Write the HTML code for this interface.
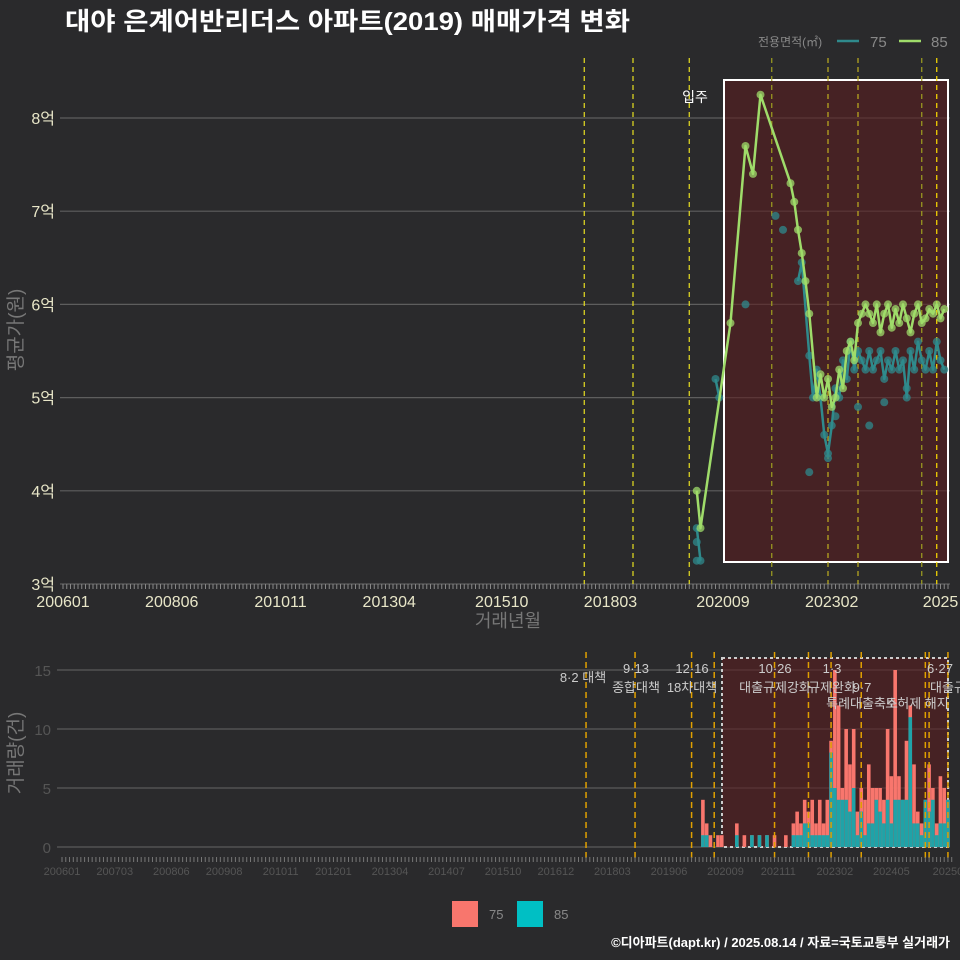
<!DOCTYPE html>
<html><head><meta charset="utf-8">
<style>
body{margin:0;background:#2a2a2c;}
svg{display:block;font-family:"Liberation Sans","Noto Sans CJK KR",sans-serif;}
</style></head>
<body>
<svg id="c" width="960" height="960" viewBox="0 0 960 960">
<rect width="960" height="960" fill="#2a2a2c"/>
<text x="65" y="30" fill="#fff" font-size="25" font-weight="bold" textLength="565" lengthAdjust="spacingAndGlyphs">대야 은계어반리더스 아파트(2019) 매매가격 변화</text>
<g>
<text x="758" y="46" fill="#888" font-size="12">전용면적(㎡)</text>
<line x1="837" y1="41" x2="859" y2="41" stroke="#2f8a8c" stroke-width="2.5"/>
<text x="870" y="47" fill="#888" font-size="15">75</text>
<line x1="899" y1="41" x2="921" y2="41" stroke="#9fdc6a" stroke-width="2.5"/>
<text x="931" y="47" fill="#888" font-size="15">85</text>
</g>
<g id="topg"></g>
<g id="botg"></g>
<g>
<rect x="452" y="901" width="26" height="26" fill="#f8766d"/>
<text x="489" y="919" fill="#888" font-size="13">75</text>
<rect x="517" y="901" width="26" height="26" fill="#00bfc4"/>
<text x="554" y="919" fill="#888" font-size="13">85</text>
</g>
<text x="950" y="947" fill="#fff" font-size="13" font-weight="bold" text-anchor="end">©디아파트(dapt.kr) / 2025.08.14 / 자료=국토교통부 실거래가</text>
</svg>
<script>
// month index: 0 = 2006-01
const priceTicks = [3,4,5,6,7,8];
const topXLabels = ['200601','200806','201011','201304','201510','201803','202009','202302','2025'];
const topXLabelMonths = [0,29,58,87,117,146,176,205,234];
const months85 = [169,170,178,182,184,186,194,195,196,197,198,199,201,202,203,204,205,206,207,208,209,210,211,212,213,214,215,216,217,218,219,220,221,222,223,224,225,226,227,228,229,230,231,232,233,234,235];
const price85 = [4.0,3.6,5.8,7.7,7.4,8.25,7.3,7.1,6.8,6.55,6.25,5.9,5.0,5.25,5.0,5.2,4.9,5.0,5.3,5.1,5.5,5.6,5.4,5.8,5.9,6.0,5.9,5.8,6.0,5.7,5.9,6.0,5.75,5.95,5.8,6.0,5.85,5.7,5.9,6.0,5.8,5.85,5.95,5.9,6.0,5.85,5.95];
const months75 = [169,170,174,175,196,197,199,200,201,202,203,204,205,206,207,208,209,210,211,212,213,214,215,216,217,218,219,220,221,222,223,224,225,226,227,228,229,230,231,232,233,234,235];
const price75 = [3.6,3.25,5.2,5.0,6.25,6.45,5.45,5.0,5.3,5.0,4.6,4.4,4.7,5.1,5.0,5.4,5.2,5.6,5.3,5.5,5.4,5.3,5.5,5.3,5.4,5.5,5.2,5.4,5.3,5.5,5.3,5.4,5.0,5.5,5.3,5.6,5.4,5.3,5.5,5.3,5.6,5.4,5.3];
const scatterMonths75 = [169,169,182,190,192,199,204,206,212,215,219,225];
const scatterPrice75 = [3.45,3.25,6.0,6.95,6.8,4.2,4.35,4.8,4.9,4.7,4.95,5.1];
const topEvents = [139,152,167,189,204,212,229,233];
const topEventColors = ['#e8e020','#e8e020','#e8e020','#a0a020','#c0b020','#c0b020','#a0a020','#ffe000'];
// bottom volume chart
const volMonths = [170,171,172,174,175,179,181,183,185,187,189,192,194,195,196,197,198,199,200,201,202,203,204,205,206,207,208,209,210,211,212,213,214,215,216,217,218,219,220,221,222,223,224,225,226,227,228,229,230,231,232,233,234,235];
const volTotal = [4,2,1,1,1,2,1,1,1,1,1,1,2,3,2,4,3,4,2,4,2,4,9,15,12,5,10,7,10,3,5,4,7,5,5,5,4,10,6,15,6,4,9,12,7,3,2,4,7,5,2,6,5,4];
const vol85 = [1,1,0,0,0,1,0,1,1,1,0,0,1,1,1,2,2,1,1,1,1,1,8,5,4,4,4,3,5,1,3,1,2,2,4,3,2,4,2,4,4,4,4,11,2,2,1,4,3,4,1,2,2,4];
const volTicks = [0,5,10,15];
const botXLabels = ['200601','200703','200806','200908','201011','201201','201304','201407','201510','201612','201803','201906','202009','202111','202302','202405','20250'];
const botXLabelMonths = [0,14,29,43,58,72,87,102,117,131,146,161,176,190,205,220,235];
const botEvents = [139,152,167,173,189,198,204,212,229,230,235];
const eventTexts = [['8·2 대책',583,682],['9·13',636,673],['종합대책',636,692],['12·16',692,673],['18차대책',692,692],['10·26',775,673],['대출규제강화',775,692],['1·3',832,673],['규제완화',832,692],['9·7',862,692],['특례대출축소',862,708],['토허제 해지',917,708],['6·27',940,673],['대출규',948,692]];

const NS='http://www.w3.org/2000/svg';
function mk(tag,attrs,parent){const e=document.createElementNS(NS,tag);for(const k in attrs)e.setAttribute(k,attrs[k]);parent.appendChild(e);return e;}
const topG=document.getElementById('topg'), botG=document.getElementById('botg');
const tx=m=>63+m*3.75, ty=v=>584-(v-3)*93.2;
const bx=m=>62+m*3.77, by=v=>847-v*11.8;

priceTicks.forEach(v=>{
 const l=mk('line',{x1:60,x2:950,y1:ty(v),y2:ty(v),stroke:'#5e5e5e','stroke-width':1.2},topG);
 
 
 const t=mk('text',{x:55,y:ty(v)+6,fill:'#e8e6c8','font-size':16,'text-anchor':'end'},topG);
 t.textContent=v+'억';
 
 
});
const box=mk('rect',{x:724,y:80,width:224,height:482,fill:'#5a1e20','fill-opacity':0.6,stroke:'#fff','stroke-width':2},topG);


topEvents.forEach((m,i)=>{
 const l=mk('line',{x1:tx(m),x2:tx(m),y1:58,y2:584,stroke:topEventColors[i],'stroke-width':1.2,'stroke-dasharray':'5,4'},topG);
 
 
});
const mv=mk('text',{x:695,y:102,fill:'#fff','font-size':14,'text-anchor':'middle'},topG);
mv.textContent='입주';


for(let m=0;m<=236;m++){
 const l=mk('line',{x1:tx(m),x2:tx(m),y1:584,y2:589,stroke:'#888','stroke-width':1},topG);
 
 
}
topXLabels.forEach((s,i)=>{
 const t=mk('text',{x:tx(topXLabelMonths[i]),y:607,fill:'#e8e6c8','font-size':16,'text-anchor':'middle'},topG);
 t.textContent=s;
 
 
});
const xt=mk('text',{x:508,y:627,fill:'#777','font-size':18,'text-anchor':'middle'},topG);
xt.textContent='거래년월';


const yt=mk('text',{x:0,y:0,fill:'#777','font-size':19,'text-anchor':'middle',transform:'translate(22,330) rotate(-90)'},topG);
yt.textContent='평균가(원)';


scatterMonths75.forEach((m,i)=>{
 const c=mk('circle',{cx:tx(m),cy:ty(scatterPrice75[i]),r:4,fill:'#2f8a8c','fill-opacity':0.75},topG);
 
 
});
function series(ms,vs,color,name,breakGap){
 let d='';
 ms.forEach((m,i)=>{d+=(i===0||(breakGap&&m-ms[i-1]>breakGap)?'M':'L')+tx(m).toFixed(1)+','+ty(vs[i]).toFixed(1);});
 const p=mk('path',{d:d,fill:'none',stroke:color,'stroke-width':2.5,'stroke-linejoin':'round'},topG);
 
 
 ms.forEach((m,i)=>{
  const c=mk('circle',{cx:tx(m),cy:ty(vs[i]),r:4,fill:color,'fill-opacity':0.75},topG);
  
  
 });
}
series(months75,price75,'#2f8a8c','75',3);
series(months85,price85,'#9fdc6a','85',0);

volTicks.forEach(v=>{
 const l=mk('line',{x1:57,x2:950,y1:by(v),y2:by(v),stroke:'#666','stroke-width':1},botG);
 
 
 const t=mk('text',{x:51,y:by(v)+6,fill:'#555','font-size':15,'text-anchor':'end'},botG);
 t.textContent=v;
 
 
});
const bbox=mk('rect',{x:722,y:658,width:226,height:189,fill:'#5a1e20','fill-opacity':0.6,stroke:'#ccc','stroke-width':2,'stroke-dasharray':'3,3'},botG);


volMonths.forEach((m,i)=>{
 const x=bx(m)-1.8;
 const r=mk('rect',{x:x,y:by(volTotal[i]),width:3.6,height:volTotal[i]*11.8,fill:'#f8766d'},botG);
 
 
 if(vol85[i]>0){
  const r2=mk('rect',{x:x,y:by(vol85[i]),width:3.6,height:vol85[i]*11.8,fill:'#1fa3a8'},botG);
  
  
 }
});
botEvents.forEach(m=>{
 const l=mk('line',{x1:bx(m),x2:bx(m),y1:652,y2:858,stroke:'#e0a000','stroke-width':1.5,'stroke-dasharray':'6,4'},botG);
 
 
});
eventTexts.forEach(e=>{
 const t=mk('text',{x:e[1],y:e[2],fill:'#ccc','font-size':13,'text-anchor':'middle'},botG);
 t.textContent=e[0];
 
 
});
for(let m=0;m<=236;m++){
 const l=mk('line',{x1:bx(m),x2:bx(m),y1:857,y2:862,stroke:'#777','stroke-width':1},botG);
 
 
}
botXLabels.forEach((s,i)=>{
 const t=mk('text',{x:bx(botXLabelMonths[i]),y:875,fill:'#555','font-size':11,'text-anchor':'middle'},botG);
 t.textContent=s;
 
 
});
const yt2=mk('text',{x:0,y:0,fill:'#777','font-size':19,'text-anchor':'middle',transform:'translate(22,753) rotate(-90)'},botG);
yt2.textContent='거래량(건)';


</script>
</body></html>
